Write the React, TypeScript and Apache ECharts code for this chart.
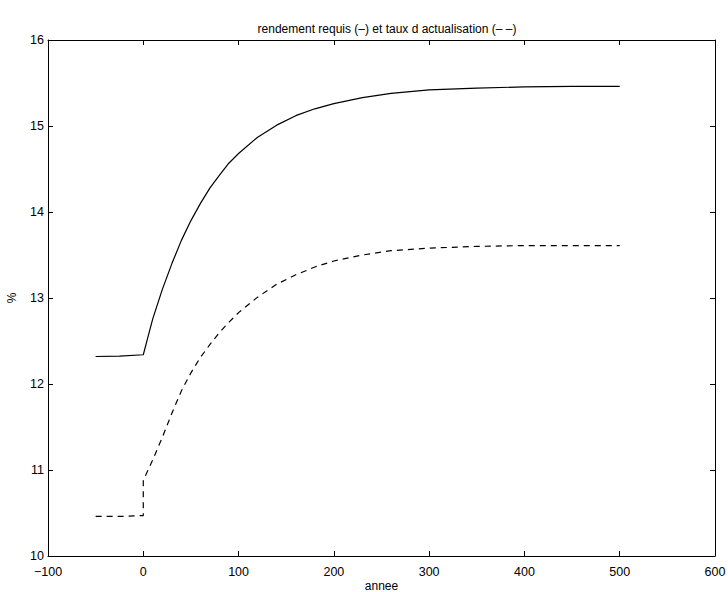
import React, { useEffect, useRef } from "react";
import * as echarts from "echarts";

const titleText = "rendement requis (–) et taux d actualisation (– –)";
const xTicks = [-100, 0, 100, 200, 300, 400, 500, 600];
const yTicks = [10, 11, 12, 13, 14, 15, 16];

const requisX = [-50, -25, 0, 5, 10, 20, 30, 40, 50, 60, 70, 80, 90, 100, 120, 140, 160, 180, 200, 230, 260, 300, 350, 400, 450, 500];
const requisY = [12.32, 12.325, 12.34, 12.55, 12.76, 13.1, 13.4, 13.67, 13.9, 14.1, 14.28, 14.43, 14.57, 14.68, 14.87, 15.01, 15.12, 15.2, 15.26, 15.33, 15.38, 15.42, 15.44, 15.455, 15.46, 15.46];

const actuX = [-50, -25, 0, 0, 10, 20, 30, 40, 50, 60, 70, 80, 90, 100, 120, 140, 160, 180, 200, 230, 260, 300, 350, 400, 450, 500];
const actuY = [10.46, 10.46, 10.47, 10.88, 11.12, 11.38, 11.66, 11.92, 12.13, 12.31, 12.46, 12.6, 12.72, 12.83, 13.01, 13.16, 13.27, 13.36, 13.43, 13.5, 13.55, 13.58, 13.6, 13.61, 13.61, 13.61];

const FONT = "Liberation Sans";

export default function App() {
  const ref = useRef<HTMLDivElement>(null);
  useEffect(() => {
    if (!ref.current) return;
    const chart = echarts.init(ref.current, null, { renderer: "svg" });
    const mkLine = () => ({ show: true, onZero: false, lineStyle: { color: "#000", width: 1 } });
    const mkTick = () => ({ show: true, inside: true, length: 5, lineStyle: { color: "#000", width: 1 } });
    const fmt = (v: number) => String(v).replace("-", "\u2212");
    chart.setOption({
      animation: false,
      backgroundColor: "#fff",
      title: {
        text: titleText,
        left: 382,
        top: 18,
        textAlign: "center",
        textStyle: { fontFamily: FONT, fontSize: 12, fontWeight: "normal", color: "#000" },
      },
      grid: { left: 48, right: 13, top: 40, bottom: 36, containLabel: false, outerBoundsMode: "none" },
      xAxis: [
        {
          type: "value",
          min: xTicks[0],
          max: xTicks[xTicks.length - 1],
          interval: 100,
          position: "bottom",
          name: "annee",
          nameLocation: "middle",
          nameGap: 24,
          nameMoveOverlap: false,
          nameTextStyle: { fontFamily: FONT, fontSize: 12, lineHeight: 12, color: "#000" },
          axisLine: mkLine(),
          axisTick: mkTick(),
          splitLine: { show: false },
          axisLabel: { fontFamily: FONT, fontSize: 12.5, color: "#000", margin: 9, formatter: fmt },
        },
        {
          type: "value",
          min: xTicks[0],
          max: xTicks[xTicks.length - 1],
          interval: 100,
          position: "top",
          axisLine: mkLine(),
          axisTick: mkTick(),
          splitLine: { show: false },
          axisLabel: { show: false },
        },
      ],
      yAxis: [
        {
          type: "value",
          min: yTicks[0],
          max: yTicks[yTicks.length - 1],
          interval: 1,
          position: "left",
          name: "%",
          nameLocation: "middle",
          nameGap: 30,
          nameMoveOverlap: false,
          nameTextStyle: { fontFamily: FONT, fontSize: 12, color: "#000" },
          axisLine: mkLine(),
          axisTick: mkTick(),
          splitLine: { show: false },
          axisLabel: { fontFamily: FONT, fontSize: 12.5, color: "#000", margin: 4, formatter: fmt },
        },
        {
          type: "value",
          min: yTicks[0],
          max: yTicks[yTicks.length - 1],
          interval: 1,
          position: "right",
          axisLine: mkLine(),
          axisTick: mkTick(),
          splitLine: { show: false },
          axisLabel: { show: false },
        },
      ],
      series: [
        {
          type: "line",
          name: "rendement requis",
          data: requisX.map((x, i) => [x, requisY[i]]),
          showSymbol: false,
          smooth: false,
          lineStyle: { color: "#000", width: 1.2, type: "solid" },
        },
        {
          type: "line",
          name: "taux d actualisation",
          data: actuX.map((x, i) => [x, actuY[i]]),
          showSymbol: false,
          smooth: false,
          lineStyle: { color: "#000", width: 1.2, type: [6, 5] },
        },
      ],
    });
    return () => chart.dispose();
  }, []);
  return (
    <div
      ref={ref}
      style={{ position: "fixed", left: 0, top: 0, width: 728, height: 592, background: "#fff" }}
    />
  );
}
